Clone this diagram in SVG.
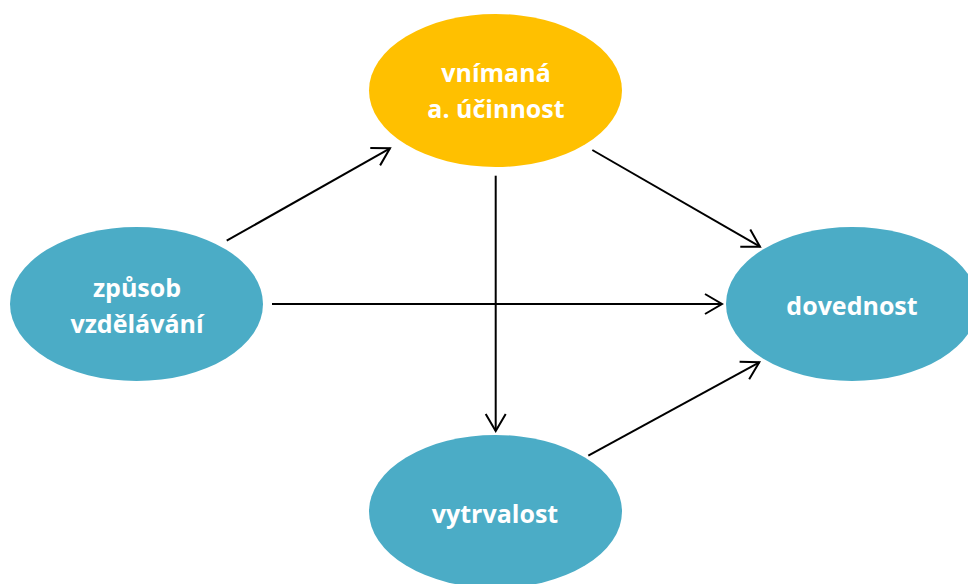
<svg xmlns="http://www.w3.org/2000/svg" width="968" height="584" viewBox="0 0 968 584">
  <style>
    .teal { fill: #4BACC6; }
    .gold { fill: #FFC000; }
    .lbl { fill: #FFFFFF; font-family: "Open Sans", "Liberation Sans", sans-serif; font-weight: bold; font-size: 25px; text-anchor: middle; }
    .edge { stroke: #000000; stroke-width: 2; fill: none; marker-end: url(#arr); }
  </style>
  <defs>
    <marker id="arr" markerUnits="userSpaceOnUse" markerWidth="24" markerHeight="24" viewBox="-20 -12 24 24" refX="0" refY="0" orient="auto" overflow="visible">
      <path d="M -17,-10 L 0,0 L -17,10" fill="none" stroke="#000000" stroke-width="2"/>
    </marker>
  </defs>
  <rect width="968" height="584" fill="#FFFFFF"/>
  <g id="node-ucinnost">
    <ellipse class="gold" cx="495.5" cy="90.5" rx="126.5" ry="76.5"/>
    <text class="lbl" x="496" y="82">vnímaná</text>
    <text class="lbl" x="496" y="118">a. účinnost</text>
  </g>
  <g id="node-zpusob">
    <ellipse class="teal" cx="136.5" cy="304" rx="126.5" ry="77"/>
    <text class="lbl" x="137" y="297">způsob</text>
    <text class="lbl" x="137" y="333">vzdělávání</text>
  </g>
  <g id="node-dovednost">
    <ellipse class="teal" cx="852" cy="304" rx="126" ry="77"/>
    <text class="lbl" x="852" y="315">dovednost</text>
  </g>
  <g id="node-vytrvalost">
    <ellipse class="teal" cx="495.5" cy="511.5" rx="126.5" ry="76.5"/>
    <text class="lbl" x="495" y="523">vytrvalost</text>
  </g>
  <g id="connectors">
    <line class="edge" x1="226.7" y1="240.7" x2="390" y2="148.3"/>
    <line class="edge" x1="272" y1="304" x2="722" y2="304"/>
    <line class="edge" x1="495.7" y1="175.7" x2="495.7" y2="431"/>
    <line class="edge" x1="592.3" y1="150" x2="760" y2="246.7"/>
    <line class="edge" x1="588.3" y1="455.7" x2="759.3" y2="362.3"/>
  </g>
</svg>
